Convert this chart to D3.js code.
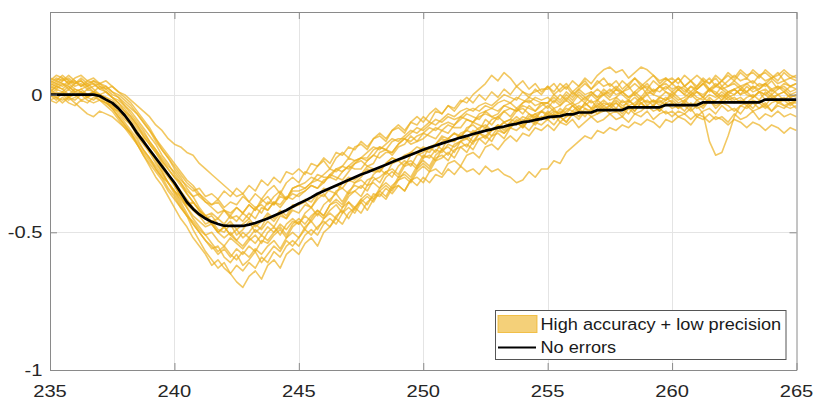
<!DOCTYPE html>
<html>
<head>
<meta charset="utf-8">
<script src="https://cdn.jsdelivr.net/npm/d3@7"></script>
<style>
  body { margin: 0; background: #fff; }
  svg { display: block; }
</style>
</head>
<body>
<svg id="chart" width="832" height="405"></svg>
<script>
// Sample positions (wavelength) shared by every trace
const wavelength = [
  235,235.25,235.5,235.75,236,236.25,236.5,236.75,237,237.25,
  237.5,237.75,238,238.25,238.5,238.75,239,239.25,239.5,239.75,
  240,240.25,240.5,240.75,241,241.25,241.5,241.75,242,242.25,
  242.5,242.75,243,243.25,243.5,243.75,244,244.25,244.5,244.75,
  245,245.25,245.5,245.75,246,246.25,246.5,246.75,247,247.25,
  247.5,247.75,248,248.25,248.5,248.75,249,249.25,249.5,249.75,
  250,250.25,250.5,250.75,251,251.25,251.5,251.75,252,252.25,
  252.5,252.75,253,253.25,253.5,253.75,254,254.25,254.5,254.75,
  255,255.25,255.5,255.75,256,256.25,256.5,256.75,257,257.25,
  257.5,257.75,258,258.25,258.5,258.75,259,259.25,259.5,259.75,
  260,260.25,260.5,260.75,261,261.25,261.5,261.75,262,262.25,
  262.5,262.75,263,263.25,263.5,263.75,264,264.25,264.5,264.75,
  265
];

// Reference signal without errors
const noErrors = [
  0,0,0,0,0,0,0,0,-0.005,-0.018,
  -0.03,-0.05,-0.075,-0.105,-0.14,-0.17,-0.2,-0.23,-0.26,-0.29,
  -0.32,-0.355,-0.39,-0.415,-0.435,-0.45,-0.462,-0.47,-0.476,-0.477,
  -0.477,-0.477,-0.472,-0.466,-0.458,-0.45,-0.44,-0.43,-0.42,-0.407,
  -0.395,-0.385,-0.373,-0.36,-0.35,-0.34,-0.33,-0.32,-0.31,-0.3,
  -0.29,-0.282,-0.273,-0.264,-0.255,-0.245,-0.236,-0.227,-0.218,-0.209,
  -0.2,-0.192,-0.185,-0.177,-0.17,-0.163,-0.156,-0.15,-0.143,-0.137,
  -0.131,-0.126,-0.12,-0.116,-0.11,-0.106,-0.1,-0.097,-0.092,-0.088,
  -0.082,-0.08,-0.078,-0.072,-0.072,-0.065,-0.065,-0.065,-0.056,-0.056,
  -0.056,-0.056,-0.056,-0.046,-0.046,-0.046,-0.046,-0.046,-0.046,-0.038,
  -0.038,-0.038,-0.038,-0.038,-0.038,-0.028,-0.028,-0.028,-0.028,-0.028,
  -0.028,-0.028,-0.028,-0.028,-0.028,-0.018,-0.018,-0.018,-0.018,-0.018,
  -0.018
];

// Repeated measurements, high accuracy + low precision
const trial01 = [
  0.03,0.02,0.04,0.03,0.01,0.02,0.03,0.01,0.00,-0.01,
  -0.03,-0.05,-0.07,-0.11,-0.14,-0.16,-0.21,-0.23,-0.27,-0.30,
  -0.33,-0.37,-0.40,-0.42,-0.44,-0.47,-0.46,-0.49,-0.50,-0.47,
  -0.51,-0.49,-0.46,-0.50,-0.48,-0.44,-0.46,-0.43,-0.45,-0.41,
  -0.40,-0.39,-0.41,-0.37,-0.34,-0.35,-0.36,-0.32,-0.30,-0.31,
  -0.29,-0.26,-0.27,-0.28,-0.25,-0.23,-0.24,-0.22,-0.21,-0.19,
  -0.20,-0.21,-0.18,-0.15,-0.16,-0.14,-0.15,-0.13,-0.10,-0.11,
  -0.12,-0.09,-0.08,-0.10,-0.09,-0.06,-0.05,-0.07,-0.08,-0.06,
  -0.04,-0.06,-0.07,-0.04,-0.03,-0.05,-0.04,-0.02,-0.05,-0.03,
  -0.04,-0.01,-0.03,-0.02,-0.04,-0.02,0.00,-0.03,-0.01,-0.02,
  0.01,-0.01,-0.03,0.00,0.01,-0.01,0.02,0.00,-0.02,0.01,
  0.02,0.00,0.01,0.03,0.01,0.02,0.00,0.02,0.03,0.01,
  0.02
];
const trial02 = [
  0.01,0.03,0.02,0.00,0.02,0.01,-0.01,0.00,-0.02,-0.04,
  -0.06,-0.09,-0.12,-0.15,-0.18,-0.22,-0.25,-0.28,-0.31,-0.35,
  -0.38,-0.41,-0.44,-0.46,-0.49,-0.51,-0.50,-0.53,-0.55,-0.52,
  -0.54,-0.56,-0.53,-0.51,-0.54,-0.50,-0.48,-0.51,-0.47,-0.45,
  -0.47,-0.43,-0.41,-0.44,-0.40,-0.38,-0.36,-0.39,-0.35,-0.33,
  -0.34,-0.31,-0.30,-0.32,-0.28,-0.27,-0.29,-0.25,-0.24,-0.26,
  -0.22,-0.23,-0.20,-0.21,-0.18,-0.19,-0.17,-0.15,-0.17,-0.14,
  -0.15,-0.13,-0.12,-0.14,-0.11,-0.10,-0.12,-0.09,-0.10,-0.08,
  -0.09,-0.07,-0.08,-0.10,-0.07,-0.06,-0.08,-0.05,-0.07,-0.06,
  -0.04,-0.06,-0.05,-0.07,-0.04,-0.03,-0.05,-0.04,-0.06,-0.03,
  -0.02,-0.04,-0.03,-0.05,-0.02,-0.01,-0.03,-0.02,0.00,-0.02,
  -0.01,-0.03,-0.01,0.00,-0.02,0.01,-0.01,0.00,-0.02,0.00,
  -0.01
];
const trial03 = [
  0.05,0.04,0.06,0.04,0.05,0.03,0.05,0.04,0.02,0.03,
  0.01,0.00,-0.02,-0.04,-0.07,-0.10,-0.13,-0.17,-0.20,-0.23,
  -0.26,-0.29,-0.32,-0.34,-0.37,-0.39,-0.41,-0.43,-0.42,-0.45,
  -0.44,-0.46,-0.43,-0.45,-0.41,-0.42,-0.39,-0.40,-0.37,-0.38,
  -0.36,-0.35,-0.33,-0.34,-0.32,-0.29,-0.30,-0.31,-0.28,-0.25,
  -0.24,-0.26,-0.25,-0.21,-0.20,-0.22,-0.19,-0.18,-0.15,-0.17,
  -0.16,-0.14,-0.12,-0.13,-0.14,-0.11,-0.08,-0.09,-0.10,-0.07,
  -0.06,-0.08,-0.07,-0.04,-0.05,-0.06,-0.03,-0.02,-0.04,-0.03,
  -0.03,-0.01,-0.03,0.00,-0.02,0.01,-0.01,0.00,0.02,0.00,
  0.01,0.03,0.01,0.02,0.04,0.02,0.03,0.01,0.03,0.04,
  0.02,0.03,0.01,0.03,0.02,0.04,0.02,0.03,0.05,0.03,
  0.04,0.02,0.04,0.05,0.03,0.04,0.06,0.04,0.05,0.03,
  0.04
];
const trial04 = [
  -0.02,-0.01,-0.03,-0.01,-0.02,0.00,-0.02,-0.03,-0.02,-0.03,
  -0.05,-0.06,-0.09,-0.11,-0.15,-0.18,-0.21,-0.25,-0.28,-0.32,
  -0.35,-0.39,-0.43,-0.47,-0.50,-0.53,-0.56,-0.55,-0.59,-0.61,
  -0.58,-0.62,-0.60,-0.57,-0.61,-0.58,-0.55,-0.57,-0.53,-0.55,
  -0.52,-0.49,-0.51,-0.48,-0.46,-0.48,-0.44,-0.42,-0.45,-0.41,
  -0.39,-0.42,-0.38,-0.36,-0.38,-0.34,-0.33,-0.35,-0.31,-0.30,
  -0.32,-0.28,-0.27,-0.29,-0.25,-0.24,-0.26,-0.22,-0.21,-0.23,
  -0.19,-0.18,-0.20,-0.17,-0.15,-0.17,-0.14,-0.15,-0.12,-0.13,
  -0.11,-0.13,-0.10,-0.11,-0.09,-0.12,-0.10,-0.08,-0.10,-0.09,
  -0.07,-0.09,-0.08,-0.10,-0.07,-0.08,-0.06,-0.09,-0.07,-0.06,
  -0.08,-0.06,-0.07,-0.05,-0.08,-0.06,-0.05,-0.07,-0.04,-0.06,
  -0.05,-0.07,-0.04,-0.06,-0.05,-0.03,-0.06,-0.04,-0.05,-0.03,
  -0.05
];
const trial05 = [
  0.02,0.04,0.03,0.05,0.03,0.04,0.02,0.03,0.04,0.02,
  0.03,0.01,0.00,-0.02,-0.04,-0.06,-0.08,-0.11,-0.13,-0.16,
  -0.18,-0.19,-0.21,-0.22,-0.25,-0.27,-0.29,-0.31,-0.33,-0.35,
  -0.37,-0.36,-0.39,-0.41,-0.40,-0.42,-0.39,-0.41,-0.38,-0.36,
  -0.37,-0.35,-0.33,-0.34,-0.31,-0.30,-0.31,-0.28,-0.26,-0.27,
  -0.27,-0.24,-0.22,-0.23,-0.21,-0.21,-0.18,-0.16,-0.18,-0.17,
  -0.14,-0.15,-0.16,-0.13,-0.11,-0.12,-0.12,-0.09,-0.10,-0.08,
  -0.07,-0.08,-0.09,-0.06,-0.05,-0.06,-0.04,-0.05,-0.06,-0.04,
  -0.03,-0.05,-0.04,-0.02,-0.04,-0.03,-0.01,-0.03,-0.02,0.00,
  -0.02,-0.01,0.01,-0.01,0.00,-0.02,0.01,0.00,-0.01,0.01,
  0.00,0.02,0.00,-0.01,0.01,0.00,0.02,0.01,-0.01,0.01,
  0.00,0.02,0.01,-0.01,0.01,0.00,0.02,0.00,0.01,-0.01,
  0.00
];
const trial06 = [
  0.06,0.05,0.07,0.05,0.04,0.06,0.04,0.05,0.03,0.01,
  -0.01,-0.03,-0.06,-0.09,-0.12,-0.15,-0.18,-0.21,-0.24,-0.27,
  -0.30,-0.32,-0.35,-0.37,-0.36,-0.39,-0.40,-0.38,-0.41,-0.39,
  -0.40,-0.37,-0.39,-0.36,-0.38,-0.35,-0.33,-0.36,-0.32,-0.30,
  -0.32,-0.28,-0.29,-0.26,-0.24,-0.27,-0.23,-0.21,-0.23,-0.19,
  -0.18,-0.20,-0.16,-0.15,-0.17,-0.13,-0.12,-0.14,-0.10,-0.11,
  -0.08,-0.10,-0.06,-0.07,-0.04,-0.05,-0.02,-0.03,0.00,0.02,
  0.04,0.07,0.05,0.08,0.06,0.03,0.05,0.02,0.04,0.01,
  0.03,0.00,0.02,0.04,0.01,0.03,0.05,0.02,0.04,0.06,
  0.03,0.05,0.02,0.04,0.06,0.03,0.05,0.07,0.04,0.06,
  0.04,0.06,0.03,0.05,0.07,0.05,0.04,0.06,0.03,0.05,
  0.07,0.05,0.06,0.04,0.07,0.05,0.06,0.08,0.05,0.06,
  0.05
];
const trial07 = [
  0.00,-0.02,0.01,-0.01,0.00,-0.02,-0.01,0.01,-0.01,-0.02,
  -0.03,-0.05,-0.07,-0.10,-0.13,-0.17,-0.20,-0.24,-0.28,-0.32,
  -0.36,-0.40,-0.44,-0.49,-0.53,-0.57,-0.60,-0.63,-0.61,-0.65,
  -0.68,-0.70,-0.66,-0.64,-0.67,-0.62,-0.60,-0.63,-0.58,-0.56,
  -0.58,-0.54,-0.52,-0.55,-0.50,-0.48,-0.45,-0.47,-0.43,-0.41,
  -0.43,-0.39,-0.37,-0.35,-0.37,-0.33,-0.31,-0.28,-0.30,-0.26,
  -0.24,-0.26,-0.22,-0.20,-0.22,-0.18,-0.17,-0.19,-0.15,-0.14,
  -0.16,-0.13,-0.11,-0.13,-0.10,-0.08,-0.10,-0.07,-0.09,-0.06,
  -0.07,-0.05,-0.08,-0.06,-0.04,-0.06,-0.03,-0.05,-0.04,-0.02,
  -0.04,-0.03,-0.05,-0.02,-0.04,-0.01,-0.03,-0.02,-0.04,-0.02,
  -0.01,-0.03,-0.02,0.00,-0.02,-0.04,-0.01,-0.03,-0.02,0.00,
  -0.02,-0.01,-0.03,-0.01,0.01,-0.02,0.00,-0.02,-0.01,-0.03,
  -0.02
];
const trial08 = [
  0.02,0.00,0.01,-0.01,0.01,0.02,0.00,0.01,-0.01,-0.02,
  -0.04,-0.07,-0.10,-0.13,-0.16,-0.20,-0.23,-0.27,-0.30,-0.34,
  -0.37,-0.41,-0.44,-0.47,-0.50,-0.53,-0.55,-0.58,-0.56,-0.59,
  -0.56,-0.58,-0.55,-0.57,-0.53,-0.54,-0.51,-0.49,-0.52,-0.48,
  -0.46,-0.49,-0.45,-0.42,-0.44,-0.40,-0.39,-0.41,-0.37,-0.35,
  -0.37,-0.33,-0.32,-0.34,-0.30,-0.28,-0.30,-0.26,-0.25,-0.27,
  -0.23,-0.22,-0.24,-0.20,-0.19,-0.21,-0.17,-0.16,-0.18,-0.14,
  -0.13,-0.15,-0.12,-0.10,-0.12,-0.09,-0.11,-0.08,-0.07,-0.09,
  -0.06,-0.08,-0.05,-0.07,-0.04,-0.06,-0.03,-0.05,-0.02,-0.04,
  -0.03,-0.05,-0.02,-0.04,-0.03,-0.01,-0.04,-0.02,-0.03,-0.01,
  -0.03,-0.05,-0.04,-0.06,-0.04,-0.07,-0.17,-0.22,-0.21,-0.15,
  -0.08,-0.04,-0.03,-0.05,-0.02,-0.04,-0.01,-0.03,-0.02,-0.04,
  -0.02
];
const trial09 = [
  0.04,0.06,0.05,0.07,0.05,0.03,0.04,0.02,0.00,-0.02,
  -0.05,-0.08,-0.11,-0.14,-0.18,-0.21,-0.24,-0.27,-0.30,-0.32,
  -0.35,-0.37,-0.40,-0.39,-0.42,-0.44,-0.43,-0.45,-0.42,-0.44,
  -0.41,-0.43,-0.40,-0.42,-0.38,-0.40,-0.37,-0.35,-0.38,-0.34,
  -0.33,-0.34,-0.32,-0.29,-0.30,-0.30,-0.27,-0.26,-0.27,-0.25,
  -0.23,-0.24,-0.22,-0.19,-0.20,-0.21,-0.18,-0.16,-0.17,-0.15,
  -0.14,-0.12,-0.13,-0.11,-0.10,-0.11,-0.09,-0.07,-0.08,-0.09,
  -0.06,-0.05,-0.06,-0.04,-0.03,-0.05,-0.03,-0.01,-0.02,-0.03,
  -0.03,0.00,-0.02,0.01,-0.01,0.02,0.00,0.01,-0.01,0.02,
  0.00,0.02,0.01,0.03,0.00,0.02,0.04,0.01,0.03,0.02,
  0.04,0.02,0.03,0.01,0.03,0.05,0.02,0.04,0.02,0.03,
  0.05,0.03,0.04,0.02,0.04,0.03,0.05,0.02,0.04,0.03,
  0.04
];
const trial10 = [
  -0.01,0.01,0.00,0.02,0.00,0.01,-0.01,0.01,0.00,0.01,
  -0.01,-0.02,-0.04,-0.06,-0.09,-0.12,-0.15,-0.18,-0.22,-0.25,
  -0.29,-0.32,-0.36,-0.39,-0.42,-0.45,-0.47,-0.50,-0.48,-0.51,
  -0.53,-0.50,-0.52,-0.49,-0.51,-0.48,-0.50,-0.47,-0.49,-0.46,
  -0.47,-0.44,-0.46,-0.43,-0.45,-0.42,-0.40,-0.43,-0.39,-0.41,
  -0.38,-0.40,-0.36,-0.37,-0.34,-0.36,-0.33,-0.35,-0.31,-0.33,
  -0.30,-0.32,-0.29,-0.30,-0.27,-0.29,-0.26,-0.28,-0.27,-0.29,
  -0.26,-0.28,-0.27,-0.29,-0.30,-0.32,-0.31,-0.28,-0.30,-0.27,
  -0.27,-0.24,-0.25,-0.21,-0.19,-0.17,-0.15,-0.16,-0.13,-0.14,
  -0.12,-0.13,-0.11,-0.12,-0.10,-0.11,-0.09,-0.10,-0.12,-0.09,
  -0.10,-0.08,-0.09,-0.11,-0.08,-0.09,-0.07,-0.09,-0.08,-0.10,
  -0.07,-0.09,-0.08,-0.06,-0.09,-0.07,-0.08,-0.06,-0.08,-0.07,
  -0.08
];
const trial11 = [
  0.03,0.05,0.04,0.02,0.04,0.05,0.03,0.04,0.02,0.01,
  -0.01,-0.03,-0.05,-0.08,-0.11,-0.14,-0.17,-0.20,-0.23,-0.26,
  -0.28,-0.31,-0.33,-0.35,-0.34,-0.37,-0.36,-0.38,-0.35,-0.37,
  -0.34,-0.36,-0.33,-0.35,-0.31,-0.33,-0.30,-0.32,-0.28,-0.29,
  -0.27,-0.29,-0.25,-0.26,-0.23,-0.25,-0.21,-0.22,-0.19,-0.20,
  -0.17,-0.19,-0.16,-0.14,-0.16,-0.13,-0.11,-0.13,-0.10,-0.08,
  -0.10,-0.07,-0.05,-0.07,-0.04,-0.06,-0.03,-0.01,-0.03,0.00,
  -0.02,0.01,-0.01,0.02,0.00,0.03,0.01,-0.01,0.02,0.00,
  0.03,0.01,0.04,0.02,0.05,0.03,0.06,0.04,0.07,0.09,
  0.10,0.08,0.09,0.06,0.08,0.10,0.09,0.07,0.05,0.06,
  0.04,0.06,0.03,0.05,0.02,0.04,0.06,0.03,0.05,0.07,
  0.05,0.08,0.06,0.09,0.07,0.08,0.06,0.07,0.09,0.07,
  0.06
];
const trial12 = [
  0.01,-0.01,0.00,-0.02,-0.01,0.01,-0.01,-0.02,0.00,-0.01,
  -0.02,-0.04,-0.06,-0.08,-0.11,-0.15,-0.18,-0.21,-0.25,-0.29,
  -0.33,-0.37,-0.41,-0.45,-0.48,-0.51,-0.54,-0.57,-0.55,-0.58,
  -0.60,-0.57,-0.59,-0.56,-0.58,-0.55,-0.53,-0.56,-0.52,-0.50,
  -0.52,-0.48,-0.46,-0.49,-0.45,-0.43,-0.45,-0.41,-0.39,-0.42,
  -0.38,-0.36,-0.38,-0.34,-0.32,-0.34,-0.30,-0.29,-0.31,-0.27,
  -0.25,-0.27,-0.23,-0.22,-0.24,-0.20,-0.19,-0.21,-0.17,-0.16,
  -0.18,-0.15,-0.14,-0.16,-0.12,-0.13,-0.11,-0.13,-0.10,-0.11,
  -0.09,-0.11,-0.08,-0.10,-0.07,-0.09,-0.06,-0.08,-0.07,-0.05,
  -0.07,-0.06,-0.08,-0.05,-0.07,-0.06,-0.04,-0.06,-0.05,-0.07,
  -0.06,-0.08,-0.07,-0.09,-0.07,-0.08,-0.10,-0.08,-0.09,-0.11,
  -0.09,-0.10,-0.12,-0.10,-0.11,-0.13,-0.11,-0.12,-0.14,-0.12,
  -0.13
];
const trial13 = [
  -0.02,-0.03,-0.01,-0.03,-0.04,-0.02,-0.03,-0.01,-0.02,-0.03,
  -0.04,-0.06,-0.08,-0.11,-0.14,-0.17,-0.20,-0.23,-0.26,-0.29,
  -0.32,-0.35,-0.38,-0.41,-0.43,-0.45,-0.44,-0.47,-0.48,-0.46,
  -0.49,-0.47,-0.45,-0.48,-0.46,-0.43,-0.45,-0.42,-0.44,-0.40,
  -0.40,-0.38,-0.39,-0.36,-0.37,-0.34,-0.33,-0.34,-0.31,-0.32,
  -0.30,-0.27,-0.28,-0.28,-0.25,-0.23,-0.24,-0.23,-0.21,-0.21,
  -0.19,-0.20,-0.18,-0.16,-0.17,-0.17,-0.14,-0.13,-0.14,-0.12,
  -0.11,-0.13,-0.12,-0.10,-0.09,-0.10,-0.08,-0.09,-0.07,-0.06,
  -0.08,-0.06,-0.07,-0.05,-0.06,-0.04,-0.05,-0.06,-0.03,-0.05,
  -0.04,-0.02,-0.04,-0.03,-0.01,-0.03,-0.02,-0.04,-0.01,-0.02,
  0.00,-0.02,-0.01,0.01,-0.01,-0.02,0.00,-0.01,0.01,-0.01,
  0.00,0.02,0.00,-0.01,0.01,0.00,-0.02,0.00,0.01,-0.01,
  0.00
];
const trial14 = [
  0.00,0.02,0.01,0.03,0.01,0.00,0.02,0.01,0.03,0.02,
  0.00,-0.01,-0.03,-0.05,-0.07,-0.10,-0.13,-0.16,-0.20,-0.23,
  -0.27,-0.30,-0.34,-0.37,-0.41,-0.44,-0.47,-0.50,-0.52,-0.50,
  -0.53,-0.55,-0.52,-0.54,-0.51,-0.53,-0.50,-0.48,-0.51,-0.47,
  -0.45,-0.47,-0.44,-0.42,-0.44,-0.40,-0.38,-0.40,-0.36,-0.35,
  -0.33,-0.35,-0.31,-0.30,-0.28,-0.30,-0.26,-0.24,-0.26,-0.22,
  -0.21,-0.19,-0.21,-0.17,-0.16,-0.14,-0.16,-0.12,-0.11,-0.13,
  -0.09,-0.11,-0.08,-0.06,-0.08,-0.05,-0.07,-0.04,-0.06,-0.03,
  -0.05,-0.02,-0.04,-0.01,-0.03,0.00,-0.02,0.01,-0.01,0.00,
  0.02,0.00,0.01,-0.01,0.01,0.03,0.00,0.02,0.01,0.03,
  0.01,0.03,0.02,0.00,0.02,0.04,0.01,0.03,0.02,0.00,
  0.02,0.03,0.01,0.03,0.02,0.04,0.02,0.03,0.01,0.03,
  0.02
];
const trial15 = [
  0.01,0.03,0.02,0.04,0.02,0.01,0.00,0.01,-0.01,-0.03,
  -0.05,-0.08,-0.11,-0.14,-0.18,-0.22,-0.26,-0.30,-0.33,-0.37,
  -0.41,-0.45,-0.48,-0.52,-0.55,-0.58,-0.62,-0.60,-0.63,-0.65,
  -0.62,-0.64,-0.61,-0.63,-0.59,-0.61,-0.57,-0.59,-0.55,-0.53,
  -0.55,-0.51,-0.49,-0.51,-0.47,-0.45,-0.47,-0.43,-0.41,-0.43,
  -0.39,-0.37,-0.39,-0.35,-0.33,-0.35,-0.31,-0.30,-0.32,-0.28,
  -0.26,-0.28,-0.24,-0.23,-0.21,-0.23,-0.19,-0.18,-0.20,-0.16,
  -0.15,-0.17,-0.13,-0.14,-0.12,-0.10,-0.12,-0.09,-0.11,-0.08,
  -0.09,-0.07,-0.10,-0.08,-0.06,-0.08,-0.05,-0.07,-0.06,-0.04,
  -0.06,-0.05,-0.07,-0.04,-0.06,-0.03,-0.05,-0.04,-0.06,-0.03,
  -0.05,-0.04,-0.06,-0.03,-0.05,-0.04,-0.02,-0.05,-0.03,-0.04,
  -0.06,-0.04,-0.05,-0.03,-0.05,-0.04,-0.06,-0.03,-0.04,-0.05,
  -0.04
];
const trial16 = [
  0.04,0.03,0.05,0.06,0.04,0.05,0.03,0.05,0.04,0.05,
  0.03,0.01,-0.01,-0.03,-0.06,-0.09,-0.12,-0.16,-0.19,-0.22,
  -0.25,-0.28,-0.31,-0.33,-0.36,-0.38,-0.40,-0.39,-0.42,-0.43,
  -0.41,-0.43,-0.40,-0.42,-0.39,-0.37,-0.40,-0.36,-0.38,-0.34,
  -0.33,-0.32,-0.30,-0.31,-0.29,-0.27,-0.28,-0.26,-0.23,-0.24,
  -0.23,-0.21,-0.19,-0.20,-0.18,-0.16,-0.17,-0.15,-0.13,-0.14,
  -0.12,-0.10,-0.11,-0.09,-0.07,-0.08,-0.06,-0.05,-0.06,-0.04,
  -0.03,-0.04,-0.02,0.00,-0.01,-0.02,0.01,0.00,0.01,0.02,
  0.02,0.04,0.01,0.03,0.00,0.02,0.04,0.02,0.05,0.03,
  0.04,0.02,0.05,0.03,0.06,0.04,0.02,0.05,0.03,0.05,
  0.06,0.04,0.07,0.05,0.03,0.06,0.04,0.07,0.05,0.08,
  0.06,0.09,0.07,0.08,0.06,0.09,0.07,0.05,0.08,0.06,
  0.07
];
const trial17 = [
  0.00,-0.01,-0.02,-0.01,-0.03,-0.05,-0.07,-0.08,-0.06,-0.07,
  -0.08,-0.10,-0.12,-0.14,-0.17,-0.20,-0.23,-0.26,-0.29,-0.32,
  -0.35,-0.38,-0.41,-0.44,-0.46,-0.48,-0.47,-0.50,-0.48,-0.51,
  -0.49,-0.52,-0.50,-0.47,-0.49,-0.46,-0.48,-0.44,-0.45,-0.42,
  -0.43,-0.40,-0.41,-0.38,-0.36,-0.39,-0.35,-0.34,-0.36,-0.32,
  -0.31,-0.33,-0.29,-0.27,-0.29,-0.25,-0.24,-0.26,-0.22,-0.21,
  -0.23,-0.19,-0.18,-0.20,-0.16,-0.17,-0.15,-0.16,-0.13,-0.14,
  -0.12,-0.13,-0.11,-0.12,-0.10,-0.11,-0.09,-0.10,-0.08,-0.09,
  -0.07,-0.09,-0.06,-0.08,-0.07,-0.05,-0.07,-0.06,-0.04,-0.06,
  -0.05,-0.03,-0.05,-0.04,-0.06,-0.03,-0.05,-0.04,-0.02,-0.04,
  -0.03,-0.05,-0.02,-0.04,-0.03,-0.05,-0.02,-0.04,-0.03,-0.01,
  -0.03,-0.02,-0.04,-0.02,-0.03,-0.05,-0.03,-0.02,-0.04,-0.03,
  -0.03
];
const trial18 = [
  0.05,0.07,0.06,0.04,0.06,0.07,0.05,0.06,0.04,0.03,
  0.01,-0.01,-0.04,-0.07,-0.10,-0.13,-0.17,-0.20,-0.24,-0.27,
  -0.30,-0.33,-0.36,-0.39,-0.42,-0.44,-0.46,-0.45,-0.47,-0.44,
  -0.46,-0.43,-0.45,-0.41,-0.43,-0.39,-0.40,-0.37,-0.38,-0.35,
  -0.35,-0.34,-0.32,-0.31,-0.32,-0.29,-0.27,-0.28,-0.26,-0.24,
  -0.23,-0.23,-0.20,-0.19,-0.20,-0.17,-0.16,-0.16,-0.14,-0.12,
  -0.13,-0.11,-0.09,-0.10,-0.08,-0.09,-0.08,-0.06,-0.05,-0.06,
  -0.04,-0.05,-0.03,-0.02,-0.03,-0.01,-0.02,-0.03,-0.01,-0.02,
  -0.01,-0.03,0.00,-0.02,0.01,-0.01,-0.03,0.00,-0.02,0.01,
  -0.01,0.02,0.00,-0.02,0.01,-0.01,0.02,0.00,0.03,0.01,
  -0.01,0.02,0.00,0.03,0.01,-0.01,0.02,0.00,0.03,0.01,
  0.02,0.00,0.03,0.01,0.02,0.04,0.01,0.03,0.02,0.00,
  0.01
];

const trials = [trial01, trial02, trial03, trial04, trial05, trial06, trial07, trial08, trial09,
                trial10, trial11, trial12, trial13, trial14, trial15, trial16, trial17, trial18];

const xTicks = [235, 240, 245, 250, 255, 260, 265];
const yTicks = [-1, -0.5, 0];
const yTickLabels = ["-1", "-0.5", "0"];
const legendLabels = ["High accuracy + low precision", "No errors"];

// ---- layout ----
const plot = { left: 50, right: 796.5, top: 12, bottom: 370 };
const trialColor = "#EDB120";
const axisColor = "#8a8a8a";
const textColor = "#262626";
const fontFamily = "Helvetica, Arial, 'Liberation Sans', sans-serif";

const x = d3.scaleLinear().domain([235, 265]).range([plot.left, plot.right]);
const y = d3.scaleLinear().domain([-1, 0.3]).range([plot.bottom, plot.top]);

const svg = d3.select("#chart");

svg.append("defs").append("clipPath").attr("id", "plotClip")
  .append("rect")
  .attr("x", plot.left).attr("y", plot.top)
  .attr("width", plot.right - plot.left).attr("height", plot.bottom - plot.top);

// grid
const grid = svg.append("g").attr("stroke", "#e4e4e4").attr("stroke-width", 1);
grid.selectAll("line.gx").data(xTicks.filter(d => d > 235 && d < 265)).join("line")
  .attr("class", "gx")
  .attr("x1", d => Math.round(x(d)) + 0.5).attr("x2", d => Math.round(x(d)) + 0.5)
  .attr("y1", plot.top).attr("y2", plot.bottom);
grid.selectAll("line.gy").data(yTicks.filter(d => d > -1)).join("line")
  .attr("class", "gy")
  .attr("x1", plot.left).attr("x2", plot.right)
  .attr("y1", d => Math.round(y(d)) + 0.5).attr("y2", d => Math.round(y(d)) + 0.5);

// traces
const line = d3.line()
  .x((d, i) => x(wavelength[i]))
  .y(d => y(d));

const traces = svg.append("g").attr("clip-path", "url(#plotClip)");
traces.selectAll("path.trial").data(trials).join("path")
  .attr("class", "trial")
  .attr("d", d => line(d.slice(0, wavelength.length)))
  .attr("fill", "none")
  .attr("stroke", trialColor)
  .attr("stroke-opacity", 0.7)
  .attr("stroke-width", 1.6)
  .attr("stroke-linejoin", "round");

traces.append("path")
  .attr("d", line(noErrors))
  .attr("fill", "none")
  .attr("stroke", "#000")
  .attr("stroke-width", 2.7)
  .attr("stroke-linejoin", "round");

// axes: ticks pointing inward on all four sides
const tickLen = 7;
function styleAxis(g) {
  g.select(".domain").attr("stroke", axisColor).attr("stroke-width", 1);
  g.selectAll(".tick line").attr("stroke", axisColor);
  g.selectAll(".tick text").remove();
}
svg.append("g").attr("transform", `translate(0,${plot.bottom})`)
  .call(d3.axisBottom(x).tickValues(xTicks).tickSizeInner(-tickLen).tickSizeOuter(0)).call(styleAxis);
svg.append("g").attr("transform", `translate(0,${plot.top})`)
  .call(d3.axisTop(x).tickValues(xTicks).tickSizeInner(-tickLen).tickSizeOuter(0)).call(styleAxis);
svg.append("g").attr("transform", `translate(${plot.left},0)`)
  .call(d3.axisLeft(y).tickValues(yTicks).tickSizeInner(-tickLen).tickSizeOuter(0)).call(styleAxis);
svg.append("g").attr("transform", `translate(${plot.right},0)`)
  .call(d3.axisRight(y).tickValues(yTicks).tickSizeInner(-tickLen).tickSizeOuter(0)).call(styleAxis);

// tick labels (slightly wide lettering)
const labelStretch = 1.2;
const xl = svg.append("g").attr("font-family", fontFamily).attr("font-size", 16.8).attr("fill", textColor);
xl.selectAll("g").data(xTicks).join("g")
  .attr("transform", d => `translate(${x(d)},${plot.bottom + 26.5})`)
  .append("text")
  .attr("text-anchor", "middle")
  .attr("transform", `scale(${labelStretch},1)`)
  .text(d => d);

const yl = svg.append("g").attr("font-family", fontFamily).attr("font-size", 16.8).attr("fill", textColor);
yl.selectAll("g").data(yTicks).join("g")
  .attr("transform", d => `translate(${plot.left - 7.5},${y(d)})`)
  .append("text")
  .attr("text-anchor", "end")
  .attr("dy", "0.35em")
  .attr("transform", `scale(${labelStretch},1)`)
  .text((d, i) => yTickLabels[i]);

// legend
const legend = svg.append("g");
legend.append("rect")
  .attr("x", 495.5).attr("y", 310.5).attr("width", 290.5).attr("height", 49)
  .attr("fill", "#fff").attr("stroke", "#555").attr("stroke-width", 1);
legend.append("rect")
  .attr("x", 498).attr("y", 315.5).attr("width", 39).attr("height", 17)
  .attr("fill", trialColor).attr("fill-opacity", 0.6)
  .attr("stroke", trialColor).attr("stroke-opacity", 0.75);
legend.append("line")
  .attr("x1", 498).attr("x2", 536).attr("y1", 347.5).attr("y2", 347.5)
  .attr("stroke", "#000").attr("stroke-width", 2);
const legendRows = [329.5, 353];
legend.selectAll("g.entry").data(legendLabels).join("g")
  .attr("class", "entry")
  .attr("transform", (d, i) => `translate(540.5,${legendRows[i]})`)
  .append("text")
  .attr("font-family", fontFamily).attr("font-size", 15.6).attr("fill", "#1a1a1a")
  .attr("transform", "scale(1.165,1)")
  .text(d => d);
</script>
</body>
</html>
